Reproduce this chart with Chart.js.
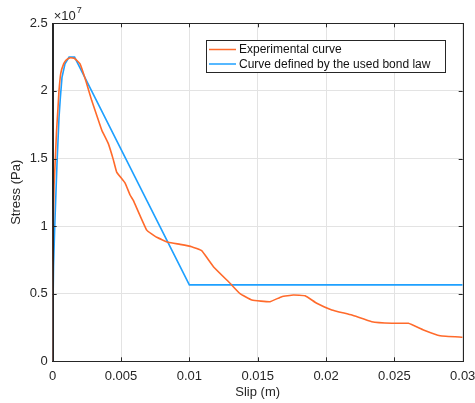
<!DOCTYPE html>
<html>
<head>
<meta charset="utf-8">
<script src="https://cdn.jsdelivr.net/npm/chart.js@4/dist/chart.umd.min.js"></script>
<style>
  html, body { margin: 0; padding: 0; background: #fff; }
  #wrap { width: 475px; height: 403px; }
</style>
</head>
<body>
<div id="wrap"><canvas id="bond-chart" width="475" height="403"></canvas></div>
<script>
// ===== Data (slip in m, stress in units of 1e7 Pa) =====
const seriesLabels = ["Experimental curve", "Curve defined by the used bond law"];

const expSlip = [0, 0.00002, 0.00004, 0.0001, 0.00017, 0.00028, 0.00039, 0.00046, 0.00059, 0.0008, 0.001,
  0.0013, 0.0016, 0.002, 0.00244, 0.00285, 0.00322, 0.00359, 0.00407, 0.00444, 0.00468, 0.00529,
  0.00566, 0.0059, 0.00688, 0.00761, 0.00846, 0.00932, 0.01017, 0.0109, 0.01176, 0.01298, 0.01371,
  0.01457, 0.0159, 0.01676, 0.01761, 0.01847, 0.01932, 0.02042, 0.02189, 0.02335, 0.02482, 0.02603,
  0.02713, 0.02835, 0.03];
const expStress = [0, 0.5, 1.0, 1.3, 1.45, 1.7, 1.88, 2.0, 2.13, 2.2, 2.23,
  2.245, 2.24, 2.2, 2.07, 1.93, 1.82, 1.71, 1.61, 1.49, 1.40, 1.32,
  1.23, 1.19, 0.97, 0.917, 0.88, 0.865, 0.848, 0.818, 0.70, 0.577, 0.50,
  0.453, 0.441, 0.478, 0.49, 0.485, 0.429, 0.38, 0.342, 0.293, 0.281, 0.281,
  0.232, 0.189, 0.178];

const lawSlip = [0, 0.00002, 0.00006, 0.00015, 0.00031, 0.00046, 0.00056, 0.00068, 0.0009, 0.0012, 0.0016, 0.01, 0.03];
const lawStress = [0, 0.4, 0.7, 1.0, 1.45, 1.8, 1.95, 2.1, 2.2, 2.25, 2.25, 0.565, 0.565];

const xTicks = [0, 0.005, 0.01, 0.015, 0.02, 0.025, 0.03];
const xTickLabels = ["0", "0.005", "0.01", "0.015", "0.02", "0.025", "0.03"];
const yTicks = [0, 0.5, 1, 1.5, 2, 2.5];
const yTickLabels = ["0", "0.5", "1", "1.5", "2", "2.5"];
const stressExponent = "7";

const colors = ["#ff6a2b", "#1ea0ff"];
const axisColor = "#262626";
const gridColor = "#e3e3e3";
const FONT = "'Liberation Sans', Arial, Helvetica, sans-serif";

// ===== Helpers =====
function toPoints(xs, ys) {
  return xs.map((x, i) => ({ x, y: ys[i] }));
}

// box, inward ticks, exponent label and legend (MATLAB style)
const matlabFrame = {
  id: "matlabFrame",
  afterDatasetsDraw(chart) {
    const { ctx, chartArea: a, scales } = chart;
    ctx.save();
    ctx.strokeStyle = axisColor;
    ctx.lineWidth = 1;
    ctx.strokeRect(Math.round(a.left) + 0.5, Math.round(a.top) + 0.5,
      Math.round(a.right - a.left), Math.round(a.bottom - a.top));

    // inward tick marks
    ctx.beginPath();
    xTicks.forEach(v => {
      const px = Math.round(scales.x.getPixelForValue(v)) + 0.5;
      ctx.moveTo(px, a.bottom); ctx.lineTo(px, a.bottom - 4);
      ctx.moveTo(px, a.top); ctx.lineTo(px, a.top + 4);
    });
    yTicks.forEach(v => {
      const py = Math.round(scales.y.getPixelForValue(v)) + 0.5;
      ctx.moveTo(a.left, py); ctx.lineTo(a.left + 4, py);
      ctx.moveTo(a.right, py); ctx.lineTo(a.right - 4, py);
    });
    ctx.stroke();

    // exponent label
    ctx.fillStyle = axisColor;
    ctx.textBaseline = "alphabetic";
    ctx.textAlign = "left";
    ctx.font = "13px " + FONT;
    ctx.fillText("\u00d710", a.left + 1, 20);
    const w = ctx.measureText("\u00d710").width;
    ctx.font = "9px " + FONT;
    ctx.fillText(stressExponent, a.left + 1 + w + 1, 13);

    // legend box
    const bx = 206.5, by = 40.5, bw = 239, bh = 32;
    ctx.fillStyle = "#fff";
    ctx.fillRect(bx, by, bw, bh);
    ctx.strokeStyle = axisColor;
    ctx.strokeRect(bx, by, bw, bh);
    ctx.font = "12px " + FONT;
    ctx.textBaseline = "middle";
    chart.data.datasets.forEach((ds, i) => {
      const ly = 49.5 + i * 14.5;
      ctx.strokeStyle = ds.borderColor;
      ctx.lineWidth = 1.5;
      ctx.beginPath();
      ctx.moveTo(209, ly); ctx.lineTo(236, ly);
      ctx.stroke();
      ctx.fillStyle = "#111";
      ctx.fillText(ds.label, 239, ly + 0.5);
    });
    ctx.restore();
  }
};

// ===== Render Chart =====
const ctx = document.getElementById("bond-chart").getContext("2d");
new Chart(ctx, {
  type: "line",
  data: {
    datasets: [
      {
        label: seriesLabels[0],
        data: toPoints(expSlip, expStress),
        borderColor: colors[0],
        borderWidth: 1.6,
        pointRadius: 0,
        tension: 0.1,
        fill: false
      },
      {
        label: seriesLabels[1],
        data: toPoints(lawSlip, lawStress),
        borderColor: colors[1],
        borderWidth: 1.6,
        pointRadius: 0,
        tension: 0,
        fill: false
      }
    ]
  },
  options: {
    responsive: false,
    animation: false,
    layout: { padding: { left: 0, right: 12.3, top: 23.3, bottom: 0 } },
    plugins: {
      legend: { display: false },
      tooltip: { enabled: false }
    },
    scales: {
      x: {
        type: "linear",
        min: 0,
        max: 0.03,
        afterFit: s => { s.height = 41.7; s.paddingLeft = 0; s.paddingRight = 0; },
        afterBuildTicks: s => { s.ticks = xTicks.map(v => ({ value: v })); },
        ticks: {
          padding: 7,
          maxRotation: 0,
          color: axisColor,
          font: { size: 13, family: FONT },
          callback: (v) => xTickLabels[xTicks.indexOf(v)] ?? ""
        },
        grid: { color: gridColor, drawTicks: false },
        border: { color: axisColor },
        title: {
          display: true,
          text: "Slip (m)",
          color: axisColor,
          font: { size: 13, family: FONT },
          padding: { top: 0, bottom: 3 }
        }
      },
      y: {
        type: "linear",
        min: 0,
        max: 2.5,
        afterFit: s => { s.width = 52.7; s.paddingTop = 0; s.paddingBottom = 0; },
        afterBuildTicks: s => { s.ticks = yTicks.map(v => ({ value: v })); },
        ticks: {
          padding: 5,
          color: axisColor,
          font: { size: 13, family: FONT },
          callback: (v) => yTickLabels[yTicks.indexOf(v)] ?? ""
        },
        grid: { color: gridColor, drawTicks: false },
        border: { color: axisColor },
        title: {
          display: true,
          text: "Stress (Pa)",
          color: axisColor,
          font: { size: 13, family: FONT },
          padding: { top: 9, bottom: 0 }
        }
      }
    }
  },
  plugins: [matlabFrame]
});
</script>
</body>
</html>
